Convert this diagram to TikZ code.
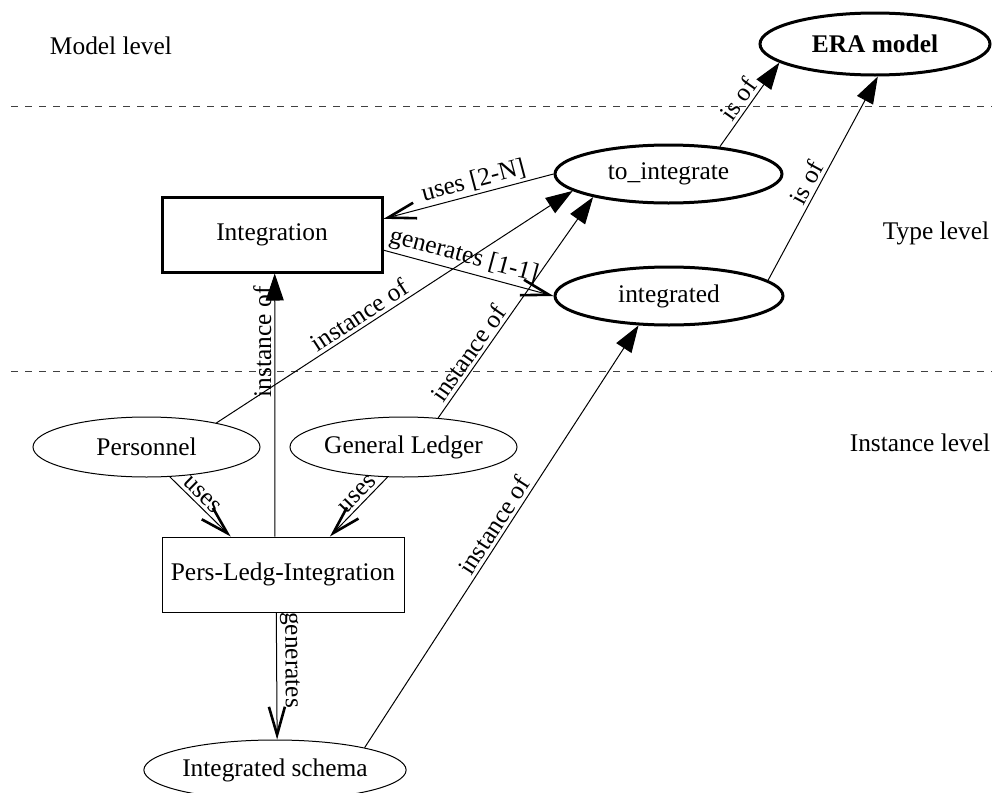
\documentclass[tikz,border=0pt]{standalone}
\usepackage{fontspec}
\setmainfont{Liberation Serif}
\usetikzlibrary{shapes.geometric,arrows.meta}
\tikzset{
  thickell/.style={draw, ellipse, line width=1.5pt, inner sep=0pt},
  thinell/.style={draw, ellipse, line width=0.5pt, inner sep=0pt},
  thickbox/.style={draw, rectangle, line width=1.5pt, inner sep=0pt},
  thinbox/.style={draw, rectangle, line width=0.5pt, inner sep=0pt},
  filledarr/.style={line width=0.5pt, -{Triangle[length=13.5pt,width=9pt]}},
  openarr/.style={line width=0.5pt, -{Straight Barb[length=14pt,width=8pt,line width=1.3pt]}},
  lbl/.style={sloped, above, inner sep=1.5pt},
  vlbl/.style={rotate=90, anchor=south, inner sep=1.5pt},
  levelline/.style={dashed, dash pattern=on 3.5pt off 3.5pt, line width=0.5pt, black!75},
  leveltxt/.style={inner sep=0pt}
}
\begin{document}
\begin{tikzpicture}[x=0.5pt, y=-0.5pt, font=\fontsize{12.7}{14.5}\selectfont]
\useasboundingbox (0,0) rectangle (992,793);

% level separators
\draw[levelline] (11,106) -- (992,106);
\draw[levelline] (11,371) -- (992,371);

% level labels
\node[leveltxt] (ml) at (111,46) {Model level};
\node[leveltxt] (tl) at (936,233) {Type level};
\node[leveltxt] (il) at (920,443) {Instance level};

% nodes
\node[thickell, minimum width=115pt, minimum height=31pt] (era) at (875,44) {\textbf{ERA model}};
\node[thickell, minimum width=113.5pt, minimum height=29pt] (toi) at (668.5,174) {to\_integrate};
\node[thickell, minimum width=114pt, minimum height=29pt] (intd) at (669,296) {integrated};
\node[thickbox, minimum width=110pt, minimum height=37.5pt] (integ) at (272,234.5) {Integration};
\node[thinell, minimum width=113.5pt, minimum height=30pt] (pers) at (146.5,447) {Personnel};
\node[thinell, minimum width=113.5pt, minimum height=30pt] (gl) at (403.5,447) {General Ledger};
\node[thinbox, minimum width=121pt, minimum height=37.5pt] (pli) at (283,574.5) {Pers-Ledg-Integration};
\node[thinell, minimum width=113pt, minimum height=30pt] (is) at (275,770) {Integrated schema};

% edges
\draw[filledarr] (toi.28) -- node[lbl, pos=0.48] {is of} (era.191);
\draw[filledarr] (intd.9) -- node[lbl, pos=0.45] {is of} (era.275);
\draw[openarr] (toi.180) -- node[lbl, pos=0.45] {uses [2-N]} (integ.8.5);
\draw[openarr] (integ.-8) -- node[lbl, pos=0.45] {generates [1-1]} (intd.180);
\draw[filledarr] (pers.19.5) -- node[lbl, pos=0.42] {instance of} (toi.190);
\draw[filledarr] (gl.40) -- node[lbl, pos=0.26] {instance of} (toi.197);
\draw[filledarr] (pli.102) -- node[vlbl, pos=0.74] {instance of} (integ.274.6);
\draw[openarr] (pers.-52) -- node[lbl, pos=0.42] {uses} (pli.144.7);
\draw[openarr] (gl.242.7) -- node[lbl, pos=0.4] {uses} (pli.39.8);
\draw[openarr] (pli.260.9) -- node[lbl, pos=0.375] {generates} (is.86);
\draw[filledarr] (is.14.8) -- node[lbl, pos=0.51] {instance of} (intd.224);
\end{tikzpicture}
\end{document}
